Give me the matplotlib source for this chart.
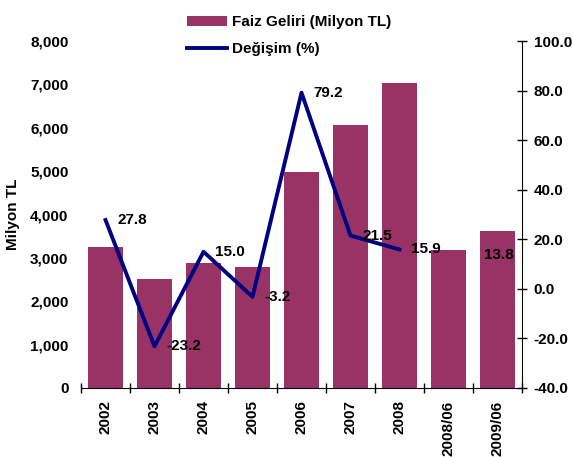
import numpy as np
import matplotlib.pyplot as plt
from matplotlib.ticker import FuncFormatter, FixedLocator

plt.rcParams['font.family'] = ['Liberation Sans', 'DejaVu Sans']
plt.rcParams['font.weight'] = 'bold'
plt.rcParams['font.size'] = 11
plt.rcParams['axes.unicode_minus'] = False

# Veriler
kategoriler = ['2002', '2003', '2004', '2005', '2006', '2007', '2008', '2008/06', '2009/06']
faiz_geliri = [3250, 2510, 2890, 2790, 4980, 6060, 7040, 3180, 3620]
degisim = [27.8, -23.2, 15.0, -3.2, 79.2, 21.5, 15.9]
son_degisim = 13.8

x = np.arange(len(kategoriler))

fig = plt.figure(figsize=(5.73, 4.57), dpi=100)
ax = fig.add_axes([0.1414, 0.151, 0.7696, 0.759])
ax2 = ax.twinx()

bars = ax.bar(x, faiz_geliri, width=0.71, color='#993366', label='Faiz Geliri (Milyon TL)', zorder=2)
line, = ax2.plot(x[:len(degisim)], degisim, color='#000080', linewidth=2.8,
                 label='Değişim (%)', zorder=3)

for xi, v in zip(x, degisim):
    ax2.annotate(f'{v:.1f}', (xi, v), xytext=(8.5, 0), textcoords='offset points',
                 ha='left', va='center', fontsize=11, fontweight='bold', zorder=6)
ax2.annotate(f'{son_degisim:.1f}', (x[-1], son_degisim), xytext=(-10, 0),
             textcoords='offset points', ha='left', va='center',
             fontsize=11, fontweight='bold', zorder=6)

# Sol eksen
ax.set_xlim(-0.5, len(kategoriler) - 0.5)
ax.set_ylim(0, 8000)
ax.set_yticks(np.arange(0, 8001, 1000))
ax.yaxis.set_major_formatter(FuncFormatter(lambda v, p: f'{int(v):,}'))
ax.tick_params(axis='y', length=0, pad=9)
ax.set_ylabel('Milyon TL', fontweight='bold', labelpad=7)

# X ekseni
ax.set_xticks(x)
ax.set_xticklabels(kategoriler, rotation=90)
ax.tick_params(axis='x', which='major', length=0, pad=9)
ax.xaxis.set_minor_locator(FixedLocator(np.arange(-0.5, len(kategoriler), 1.0)))
ax.tick_params(axis='x', which='minor', direction='inout', length=7, width=1)

# Sağ eksen
ax2.set_ylim(-40, 100)
ax2.set_yticks(np.arange(-40, 101, 20))
ax2.yaxis.set_major_formatter(FuncFormatter(lambda v, p: f'{v:.1f}'))
ax2.tick_params(axis='y', direction='inout', length=7, width=1, pad=5)

for a in (ax, ax2):
    a.spines['top'].set_visible(False)
    a.spines['left'].set_visible(False)
ax.spines['right'].set_visible(False)
ax2.spines['bottom'].set_visible(False)

fig.legend(handles=[bars, line], loc='upper left', bbox_to_anchor=(0.316, 0.98),
           frameon=False, handlelength=2.6, handletextpad=0.35, labelspacing=0.85,
           borderaxespad=0)

fig.savefig('out.png', dpi=100)
